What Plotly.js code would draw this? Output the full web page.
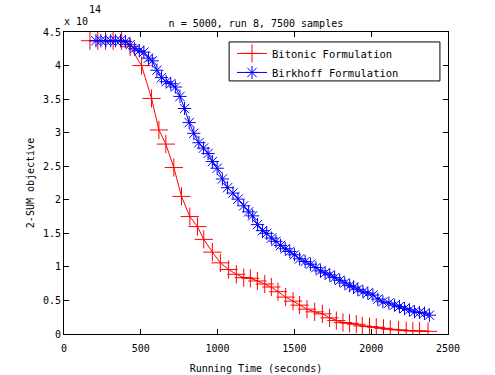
<!DOCTYPE html>
<html>
<head>
<meta charset="utf-8">
<script src="https://cdn.plot.ly/plotly-3.0.1.min.js"></script>
<style>
  body { margin: 0; background: #fff; }
  #chart { width: 495px; height: 375px; }
</style>
</head>
<body>
<div id="chart"></div>
<script>
// Bitonic formulation: running time (s) and 2-SUM objective (x 1e14)
var bitonicTime = [169, 220, 270, 320, 375, 430, 505, 570, 618, 663, 715, 765, 819, 869, 910,
  966, 1018, 1072, 1122, 1170, 1213, 1259, 1307, 1350, 1393, 1443, 1491, 1534, 1582, 1632,
  1682, 1729, 1773, 1816, 1859, 1903, 1942, 1989, 2033, 2080, 2124, 2178, 2228, 2271, 2314, 2370];
var bitonicObj = [4.37, 4.37, 4.37, 4.37, 4.37, 4.28, 4.00, 3.51, 3.04, 2.83, 2.48, 2.05, 1.75, 1.60, 1.41,
  1.22, 1.06, 0.96, 0.89, 0.84, 0.83, 0.79, 0.745, 0.70, 0.63, 0.55, 0.49, 0.43, 0.37, 0.33,
  0.30, 0.24, 0.20, 0.17, 0.16, 0.145, 0.12, 0.11, 0.10, 0.085, 0.07, 0.06, 0.05, 0.045, 0.045, 0.04];

// Birkhoff formulation
var birkhoffTime = [208, 240, 272, 304, 336, 368, 400, 430, 460, 490, 520, 550, 575, 605, 635,
  665, 695, 725, 755, 785, 815, 845, 878, 908, 938, 966, 997, 1031, 1065, 1100,
  1133, 1170, 1202, 1228, 1260, 1292, 1320, 1350, 1380, 1410, 1440, 1470, 1500, 1534, 1570,
  1605, 1640, 1670, 1700, 1730, 1762, 1795, 1828, 1860, 1885, 1913, 1946, 1978, 2011, 2043,
  2076, 2115, 2152, 2184, 2217, 2249, 2282, 2314, 2347, 2379];
var birkhoffObj = [4.37, 4.37, 4.37, 4.37, 4.37, 4.37, 4.36, 4.31, 4.25, 4.22, 4.20, 4.11, 4.07, 3.93, 3.82,
  3.76, 3.73, 3.68, 3.54, 3.36, 3.15, 2.99, 2.85, 2.77, 2.69, 2.57, 2.47, 2.31, 2.18, 2.10,
  2.01, 1.91, 1.82, 1.76, 1.63, 1.54, 1.50, 1.43, 1.38, 1.32, 1.27, 1.23, 1.18, 1.12, 1.08,
  1.04, 0.99, 0.94, 0.91, 0.88, 0.84, 0.80, 0.76, 0.72, 0.70, 0.665, 0.63, 0.61, 0.58, 0.52,
  0.48, 0.46, 0.43, 0.41, 0.38, 0.36, 0.33, 0.32, 0.31, 0.28];

var font = "DejaVu Sans Mono, monospace";

var bitonic = {
  x: bitonicTime,
  y: bitonicObj,
  name: "Bitonic Formulation",
  type: "scatter",
  mode: "lines+markers",
  line: {color: "#ff0000", width: 1},
  marker: {symbol: "cross-thin-open", size: 13, color: "#ff0000", line: {color: "#ff0000", width: 1}}
};

var birkhoff = {
  x: birkhoffTime,
  y: birkhoffObj,
  name: "Birkhoff Formulation",
  type: "scatter",
  mode: "lines+markers",
  line: {color: "#0000ff", width: 1},
  marker: {symbol: "asterisk-open", size: 11, color: "#0000ff", line: {color: "#0000ff", width: 1}}
};

var axisStyle = {
  showline: true,
  linecolor: "#000",
  linewidth: 1,
  mirror: "ticks",
  ticks: "inside",
  ticklen: 5,
  tickcolor: "#000",
  showgrid: false,
  zeroline: false,
  tickfont: {family: font, size: 10, color: "#000"}
};

var layout = {
  width: 495,
  height: 375,
  margin: {l: 64, r: 47, t: 32, b: 41},
  paper_bgcolor: "#fff",
  plot_bgcolor: "#fff",
  font: {family: font, size: 10, color: "#000"},
  showlegend: true,
  title: {text: "n = 5000, run 8, 7500 samples", font: {family: font, size: 10, color: "#000"},
    x: 0.517, xanchor: "center", y: 0.937, yanchor: "middle"},
  xaxis: Object.assign({}, axisStyle, {
    range: [0, 2500], dtick: 500, tick0: 0, ticklabelstandoff: 5,
    title: {text: "Running Time (seconds)", font: {family: font, size: 10}, standoff: 11}
  }),
  yaxis: Object.assign({}, axisStyle, {
    range: [0, 4.5], dtick: 0.5, tick0: 0,
    title: {text: "2-SUM objective", font: {family: font, size: 10}, standoff: 6}
  }),
  // legend box drawn as a shape so it can be wider than plotly's auto-sized one
  legend: {
    x: 0.4375, xanchor: "left", y: 0.977, yanchor: "top",
    borderwidth: 0, bgcolor: "rgba(0,0,0,0)",
    font: {family: font, size: 10.5, color: "#000"}
  },
  shapes: [
    {type: "rect", xref: "paper", yref: "paper", x0: 0.43, x1: 0.979, y0: 0.838, y1: 0.967,
      line: {color: "#000", width: 1}, fillcolor: "#fff", layer: "below"}
  ],
  annotations: [
    {text: "x 10", xref: "paper", yref: "paper", x: 0, y: 1, xanchor: "left", yanchor: "bottom",
      yshift: 3, xshift: -2, showarrow: false, font: {family: font, size: 10}},
    {text: "14", xref: "paper", yref: "paper", x: 0, y: 1, xanchor: "left", yanchor: "bottom",
      yshift: 15, xshift: 23, showarrow: false, font: {family: font, size: 10}}
  ]
};

Plotly.newPlot("chart", [bitonic, birkhoff], layout, {displayModeBar: false});
</script>
</body>
</html>
